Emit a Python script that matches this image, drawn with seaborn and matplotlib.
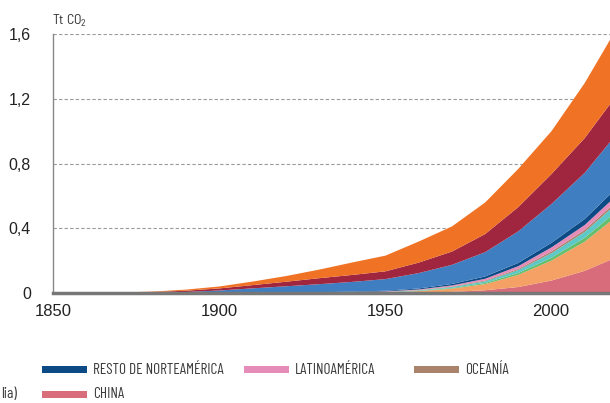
import numpy as np
import matplotlib
matplotlib.use("Agg")
import matplotlib.pyplot as plt
from matplotlib.patches import Rectangle
import seaborn as sns

# cumulative CO2 (Tt) per region (layer thickness)
years = [1850, 1860, 1870, 1880, 1890, 1900, 1910, 1920, 1930, 1940,
         1950, 1960, 1970, 1980, 1990, 2000, 2010, 2018]

china = [0, 0, 0, 0, 0, 0, 0, 0, 0, 0.0005,
         0.001, 0.004, 0.010, 0.020, 0.040, 0.080, 0.140, 0.210]
asia_rest = [0, 0, 0, 0, 0, 0.0005, 0.001, 0.0015, 0.002, 0.003,
             0.005, 0.010, 0.020, 0.038, 0.075, 0.123, 0.180, 0.240]
green_reg = [0, 0, 0, 0, 0, 0, 0, 0, 0, 0.0005,
             0.001, 0.002, 0.004, 0.007, 0.012, 0.018, 0.024, 0.030]
teal_reg = [0, 0, 0, 0, 0, 0, 0, 0.0005, 0.001, 0.0015,
            0.002, 0.003, 0.006, 0.010, 0.018, 0.028, 0.036, 0.045]
oceania = [0, 0, 0, 0, 0, 0, 0, 0, 0.0005, 0.0007,
           0.001, 0.002, 0.003, 0.005, 0.007, 0.011, 0.013, 0.015]
latam = [0, 0, 0, 0, 0, 0, 0.0003, 0.0006, 0.001, 0.002,
         0.003, 0.004, 0.007, 0.011, 0.017, 0.025, 0.030, 0.035]
rest_na = [0, 0, 0, 0, 0.0003, 0.001, 0.0015, 0.002, 0.003, 0.0035,
           0.004, 0.006, 0.009, 0.014, 0.020, 0.028, 0.037, 0.045]
blue_reg = [0, 0.001, 0.002, 0.004, 0.009, 0.017, 0.029, 0.040, 0.050, 0.060,
            0.072, 0.095, 0.118, 0.150, 0.195, 0.240, 0.285, 0.325]
red_reg = [0, 0.001, 0.003, 0.005, 0.008, 0.013, 0.020, 0.028, 0.037, 0.043,
           0.048, 0.065, 0.082, 0.112, 0.150, 0.185, 0.215, 0.235]
orange_reg = [0, 0, 0.001, 0.003, 0.007, 0.012, 0.022, 0.035, 0.053, 0.077,
              0.097, 0.130, 0.155, 0.195, 0.236, 0.265, 0.340, 0.400]

layer_colors = ["#D86C7A", "#F5A064", "#66BE6B", "#5CC8C8", "#A9836B",
                "#E68CB8", "#0B4A85", "#3F7FC1", "#A0263F", "#F07224"]

x_ticks = [1850, 1900, 1950, 2000]
y_ticks = [0, 0.4, 0.8, 1.2, 1.6]
y_labels = ["0", "0,4", "0,8", "1,2", "1,6"]

legend_row1 = [("RESTO DE NORTEAMÉRICA", "#0B4A85"), ("LATINOAMÉRICA", "#E68CB8"), ("OCEANÍA", "#A9836B")]
legend_row2 = [("CHINA", "#D86C7A")]

sns.set_theme(style="white")
plt.rcParams["font.family"] = ["Liberation Sans", "DejaVu Sans"]

W, H = 610, 403
fig = plt.figure(figsize=(W / 100, H / 100), dpi=100)
ax = fig.add_axes([53 / W, 110 / H, (W - 53) / W, 259 / H])

ax.stackplot(years, china, asia_rest, green_reg, teal_reg, oceania, latam,
             rest_na, blue_reg, red_reg, orange_reg, colors=layer_colors,
             linewidth=0)

ax.set_xlim(1850, 1850 + (W - 53) / 3.32)
ax.set_ylim(0, 1.6)
ax.set_axisbelow(True)
ax.yaxis.grid(True, color="#9a9a9a", linestyle=(0, (3, 2)), linewidth=0.8)
ax.xaxis.grid(False)

ax.set_xticks(x_ticks)
ax.set_xticklabels([str(t) for t in x_ticks], fontsize=12, color="#222222")
ax.set_yticks(y_ticks)
ax.set_yticklabels(y_labels, fontsize=11.5, color="#222222")
ax.tick_params(axis="x", direction="in", length=4, width=0.8, color="#888888", pad=8)
ax.tick_params(axis="y", length=0, pad=16)

for side in ["top", "right"]:
    ax.spines[side].set_visible(False)
ax.spines["left"].set_color("#888888")
ax.spines["left"].set_linewidth(1.0)
ax.spines["bottom"].set_color("#777777")
ax.spines["bottom"].set_linewidth(2.5)
ax.spines["bottom"].set_zorder(5)

cond = ["Barlow Condensed", "DejaVu Sans"]
fig.text(52 / W, 1 - 25 / H, r"Tt CO$_\mathregular{2}$", fontsize=10,
         family=["Barlow Semi Condensed", "DejaVu Sans"], color="#333333")

# legend (drawn by hand, the left column is cut off in the original)
leg_font = dict(fontsize=11, family=cond, weight=400,
                color="#3a3a3a", va="center")
col_x = [42, 244, 414]
for (label, col), cx in zip(legend_row1, col_x):
    fig.add_artist(Rectangle((cx / W, 1 - 373 / H), 45 / W, 7 / H,
                             transform=fig.transFigure, color=col, lw=0))
    fig.text((cx + 51) / W, 1 - 369.5 / H, label, **leg_font)
for (label, col), cx in zip(legend_row2, col_x):
    fig.add_artist(Rectangle((cx / W, 1 - 398 / H), 45 / W, 7 / H,
                             transform=fig.transFigure, color=col, lw=0))
    fig.text((cx + 51) / W, 1 - 394.5 / H, label, **leg_font)
fig.text(1 / W, 1 - 394.5 / H, "lia)", ha="left", **leg_font)

fig.savefig("out.png", dpi=100)
